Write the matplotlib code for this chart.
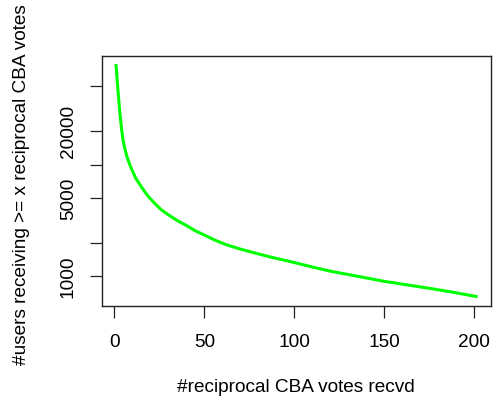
import numpy as np
import matplotlib
matplotlib.use("Agg")
import matplotlib.pyplot as plt
from matplotlib.ticker import FixedLocator, FixedFormatter, NullLocator

plt.rcParams["font.family"] = ["Liberation Sans", "DejaVu Sans"]

# complementary cumulative counts: users with >= x reciprocal votes
votes = [1, 2, 3, 4, 5, 6, 7, 8, 9, 10, 12, 14, 16, 18, 20, 23, 26, 30,
         35, 40, 45, 50, 56, 62, 70, 79, 88, 98, 110, 120, 135, 150, 162,
         175, 188, 201]
users = [77000, 47000, 30000, 21000, 16000, 13600, 11800, 10600, 9600,
         8800, 7500, 6700, 6000, 5400, 4950, 4400, 3950, 3550, 3150, 2850,
         2550, 2340, 2100, 1920, 1750, 1600, 1470, 1350, 1210, 1110, 1000,
         900, 840, 780, 720, 659]

y_ticks = [1000, 2000, 5000, 10000, 20000, 50000]
y_tick_labels = ["1000", "", "5000", "", "20000", ""]
x_ticks = [0, 50, 100, 150, 200]

FS = 13.7

fig = plt.figure(figsize=(4.93, 4.02), dpi=100)
ax = fig.add_axes([101.7 / 493, 1 - 306.7 / 402,
                   (490.5 - 101.7) / 493, (306.7 - 57.3) / 402])

ax.plot(votes, users, color="#00FF00", linewidth=2.2,
        solid_joinstyle="round")
ax.set_yscale("log")

# R-style 4% padding around the data range
x0, x1 = min(votes), max(votes)
pad = 0.04 * (x1 - x0)
ax.set_xlim(x0 - pad, x1 + pad)
ly0, ly1 = np.log10(min(users)), np.log10(max(users))
lpad = 0.04 * (ly1 - ly0)
ax.set_ylim(10 ** (ly0 - lpad), 10 ** (ly1 + lpad))

ax.yaxis.set_major_locator(FixedLocator(y_ticks))
ax.yaxis.set_major_formatter(FixedFormatter(y_tick_labels))
ax.yaxis.set_minor_locator(NullLocator())
ax.set_xticks(x_ticks)
ax.set_xticklabels([str(t) for t in x_ticks])

ax.tick_params(axis="both", direction="out", length=8.3, width=0.9,
               labelsize=FS, color="#222222")
ax.tick_params(axis="x", pad=11)
ax.tick_params(axis="y", pad=9.5)
for lab in ax.get_yticklabels():
    lab.set_rotation(90)
    lab.set_va("center")

for sp in ax.spines.values():
    sp.set_linewidth(1.0)
    sp.set_color("#222222")

fig.text(296 / 493, 1 - 388 / 402, "#reciprocal CBA votes recvd",
         ha="center", va="center", fontsize=FS)
fig.text(22 / 493, 1 - 185 / 402, "#users receiving >= x reciprocal CBA votes",
         ha="center", va="center", rotation=90, fontsize=FS)

fig.savefig("out.png", dpi=100)
